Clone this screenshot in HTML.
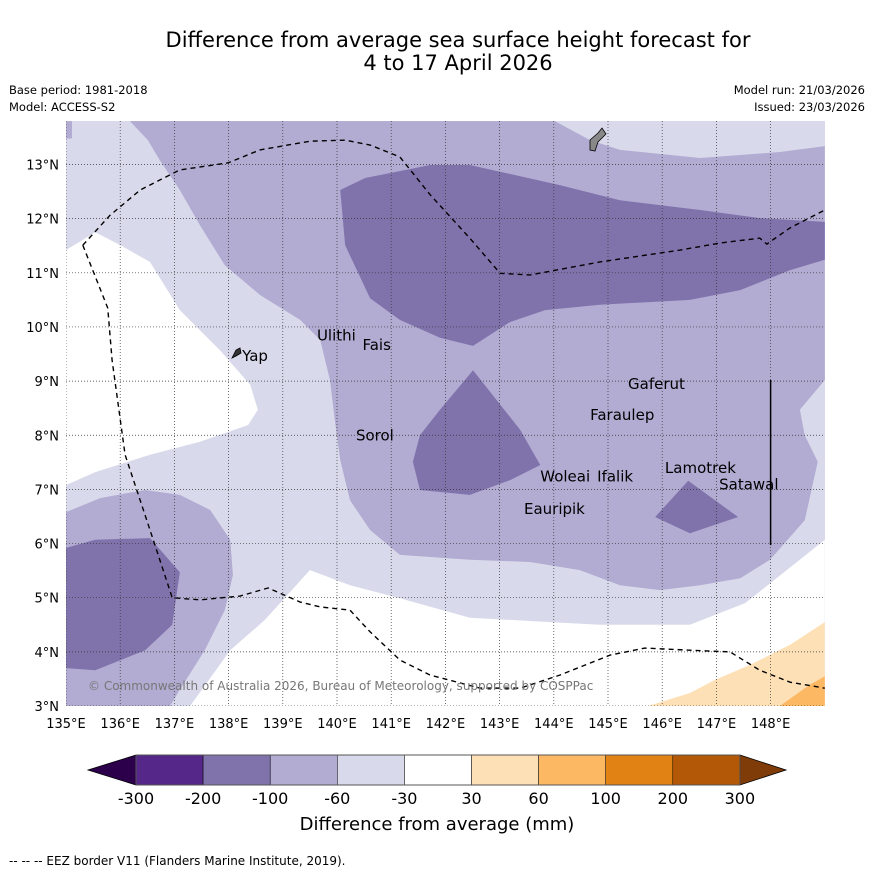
<!DOCTYPE html>
<html><head><meta charset="utf-8"><style>
body{margin:0;background:#fff;width:873px;height:873px;overflow:hidden;font-family:"Liberation Sans","DejaVu Sans",sans-serif}
</style></head><body>
<svg id="chart" width="873" height="873" xmlns="http://www.w3.org/2000/svg" font-family="DejaVu Sans, Liberation Sans, sans-serif">
<rect width="873" height="873" fill="#fff"/>
<text x="458" y="47" font-size="21" text-anchor="middle">Difference from average sea surface height forecast for</text>
<text x="458" y="70" font-size="21" text-anchor="middle">4 to 17 April 2026</text>
<text x="9" y="94" font-size="11.5">Base period: 1981-2018</text>
<text x="9" y="111" font-size="11.5">Model: ACCESS-S2</text>
<text x="865" y="94" font-size="11.5" text-anchor="end">Model run: 21/03/2026</text>
<text x="865" y="111" font-size="11.5" text-anchor="end">Issued: 23/03/2026</text>
<defs><clipPath id="mapclip"><rect x="66" y="121" width="759" height="585"/></clipPath></defs>
<g id="map" clip-path="url(#mapclip)"></g>
<g id="axes"></g>
<g id="cbar"></g>
<text x="437" y="830" font-size="18" text-anchor="middle">Difference from average (mm)</text>
<text x="9" y="865" font-size="12">--  --  -- EEZ border V11 (Flanders Marine Institute, 2019).</text>
</svg>
<script>
const NS="http://www.w3.org/2000/svg";
const lonTicks=[135,136,137,138,139,140,141,142,143,144,145,146,147,148];
const latTicks=[3,4,5,6,7,8,9,10,11,12,13];
const levels=["-300","-200","-100","-60","-30","30","60","100","200","300"];
const levelColors=["#542788","#8073ac","#b2abd2","#d8daeb","#ffffff","#fee0b6","#fdb863","#e08214","#b35806"];
const whiteLeft=[[135,11.42],[135.54,11.75],[136,11.51],[136.55,11.2],[137.1,10.31],[137.84,9.57],[138.4,8.93],[138.54,8.47],[138.36,8.19],[137.47,7.88],[136.55,7.64],[135.54,7.32],[135,7.08]];
const whiteBottom=[[137.29,3],[138.03,4.03],[138.67,4.59],[139.5,5.51],[140.24,5.23],[141.16,4.99],[142.45,4.63],[143.93,4.55],[144.85,4.5],[146.51,4.5],[147.53,4.9],[148.54,5.7],[149,6.07],[149,3]];
const m100Main=[[136.18,13.8],[144.02,13.8],[144.67,13.45],[145.22,13.27],[146.7,13.12],[148.17,13.23],[149,13.34],[149,9.02],[148.54,8.47],[148.63,8.0],[148.87,7.51],[148.63,6.43],[147.99,5.7],[147.44,5.36],[146.7,5.23],[145.96,5.14],[145.22,5.23],[144.48,5.51],[143.56,5.66],[142.45,5.7],[141.16,5.79],[140.61,6.25],[140.24,6.8],[140.06,7.54],[139.96,8.28],[139.87,9.02],[139.69,9.76],[139.32,10.13],[138.58,10.59],[137.93,11.14],[137.47,11.88],[137.1,12.53],[136.73,13.08],[136.51,13.45]];
const m100Corner=[[135,13.8],[135.11,13.8],[135.11,13.48],[135,13.48]];
const m100Left=[[135,6.58],[135.63,6.84],[136.46,6.99],[137.1,6.9],[137.66,6.62],[138.03,6.07],[138.08,5.42],[137.93,4.77],[137.56,4.03],[137.1,3.3],[136.92,3],[135,3]];
const m200Top=[[140.06,12.53],[140.52,12.75],[141.72,12.99],[142.45,12.99],[144.11,12.62],[145.22,12.34],[146.7,12.16],[147.8,12.01],[149,11.94],[149,11.24],[148.36,11.05],[147.44,10.68],[146.51,10.5],[144.85,10.41],[143.84,10.31],[143.19,10.09],[142.51,9.65],[141.9,9.8],[141.16,10.13],[140.61,10.53],[140.15,11.51]];
const m200Mid=[[142.51,9.2],[143.38,8.1],[143.75,7.45],[143.19,7.17],[142.45,6.9],[141.53,6.99],[141.4,7.51],[141.53,8.0],[141.9,8.47]];
const m200Small=[[146.48,7.16],[147.4,6.49],[146.51,6.19],[145.87,6.49]];
const m200Left=[[135,5.92],[135.54,6.07],[136.55,6.1],[137.1,5.47],[136.96,4.5],[136.46,4.03],[135.54,3.66],[135,3.7]];
const p30=[[145.74,3],[146.51,3.24],[146.97,3.48],[147.62,3.76],[148.36,4.13],[149,4.55],[149,3]];
const p60=[[148.17,3],[148.72,3.39],[149,3.55],[149,3]];
const eezNorth=[[135.31,11.51],[135.81,12.06],[136.37,12.53],[137.1,12.9],[137.99,13.03],[138.58,13.27],[139.5,13.43],[140.15,13.45],[140.61,13.36],[141.16,13.14],[141.72,12.44],[142.45,11.64],[143.01,10.99],[143.56,10.96],[144.85,11.2],[146.33,11.42],[147.07,11.55],[147.8,11.64],[147.93,11.53],[148.36,11.83],[149,12.16]];
const eezSouth=[[135.31,11.51],[135.77,10.35],[135.85,9.39],[136.09,7.64],[136.55,6.25],[136.96,5.0],[137.47,4.96],[138.21,5.03],[138.73,5.18],[139.32,4.92],[139.69,4.83],[140.24,4.77],[140.61,4.37],[141.16,3.85],[141.72,3.57],[142.64,3.33],[143.38,3.33],[144.11,3.57],[145.04,3.94],[145.68,4.07],[146.51,4.03],[147.25,4.0],[147.8,3.66],[148.36,3.44],[149,3.33]];
const islandNames=["Ulithi","Fais","Yap","Gaferut","Faraulep","Sorol","Woleai","Ifalik","Lamotrek","Satawal","Eauripik"];
const islandLon=[139.63,140.47,138.25,145.37,144.67,140.35,143.75,144.8,146.05,147.05,143.45];
const islandLat=[9.75,9.57,9.37,8.85,8.28,7.9,7.15,7.15,7.3,7.0,6.55];

const X=lon=>66+(lon-135)*54.2, Y=lat=>706-(lat-3)*54.15;
const map=document.getElementById('map'),axes=document.getElementById('axes'),cbar=document.getElementById('cbar');
function mk(tag,attrs,parent){const e=document.createElementNS(NS,tag);for(const k in attrs)e.setAttribute(k,attrs[k]);parent.appendChild(e);return e;}
function poly(pts,fill,name){const e=mk('polygon',{points:pts.map(p=>X(p[0])+','+Y(p[1])).join(' '),fill:fill},map);

}
const bg=mk('rect',{x:66,y:121,width:759,height:585,fill:levelColors[3]},map);


poly(whiteLeft,"#fff","contour-neutral-west");
poly(whiteBottom,"#fff","contour-neutral-south");
poly(m100Main,levelColors[2],"contour-minus100-main");
poly(m100Corner,levelColors[2],"contour-minus100-corner");
poly(m100Left,levelColors[2],"contour-minus100-southwest");
poly(m200Top,levelColors[1],"contour-minus200-north");
poly(m200Mid,levelColors[1],"contour-minus200-central");
poly(m200Small,levelColors[1],"contour-minus200-east");
poly(m200Left,levelColors[1],"contour-minus200-southwest");
poly(p30,levelColors[5],"contour-plus30-southeast");
poly(p60,levelColors[6],"contour-plus60-southeast");
lonTicks.forEach(l=>{const g=mk('line',{x1:X(l),x2:X(l),y1:121,y2:706,stroke:"#333","stroke-width":0.7,"stroke-dasharray":"1,2"},map);

});
latTicks.forEach(l=>{const g=mk('line',{x1:66,x2:825,y1:Y(l),y2:Y(l),stroke:"#333","stroke-width":0.7,"stroke-dasharray":"1,2"},map);

});
[eezNorth,eezSouth].forEach(s=>{const e=mk('polyline',{points:s.map(p=>X(p[0])+','+Y(p[1])).join(' '),fill:"none",stroke:"#000","stroke-width":1.4,"stroke-dasharray":"5,4"},map);

});
const vl=mk('line',{x1:X(148),x2:X(148),y1:Y(9.02),y2:Y(5.97),stroke:"#000","stroke-width":1.5},map);


const guam=mk('polygon',{points:"590,140 598,133 602,128 606,134 598,142 595,151 590,150",fill:"#888",stroke:"#000","stroke-width":0.8},map);


const yap=mk('polygon',{points:"232,358 236,350 240,348 241,353 236,356",fill:"#333",stroke:"#000","stroke-width":0.8},map);


islandNames.forEach((n,i)=>{const t=mk('text',{x:X(islandLon[i]),y:Y(islandLat[i]),"font-size":15},map);t.textContent=n;

});
const cp=mk('text',{x:88,y:690,"font-size":12,fill:"#777"},map);cp.textContent="© Commonwealth of Australia 2026, Bureau of Meteorology, supported by COSPPac";


lonTicks.forEach(l=>{const t=mk('text',{x:X(l),y:728,"font-size":13,"text-anchor":"middle"},axes);t.textContent=l+"°E";

});
latTicks.forEach(l=>{const t=mk('text',{x:59,y:Y(l)+5,"font-size":13,"text-anchor":"end"},axes);t.textContent=l+"°N";

});
const cx=i=>136+i*67.1, cy=755, ch=30;
const lo=mk('polygon',{points:`88,770 ${cx(0)},${cy} ${cx(0)},${cy+ch}`,fill:"#2d004b",stroke:"#000","stroke-width":0.8},cbar);


const hi=mk('polygon',{points:`${cx(9)},${cy} 786,770 ${cx(9)},${cy+ch}`,fill:"#7f3b08",stroke:"#000","stroke-width":0.8},cbar);


levelColors.forEach((c,i)=>{const r=mk('rect',{x:cx(i),y:cy,width:67.1,height:ch,fill:c,stroke:"#000","stroke-width":0.5},cbar);

});
const fr=mk('rect',{x:cx(0),y:cy,width:cx(9)-cx(0),height:ch,fill:"none",stroke:"#555","stroke-width":1},cbar);


levels.forEach((l,i)=>{const t=mk('text',{x:cx(i),y:804,"font-size":16,"text-anchor":"middle"},cbar);t.textContent=l;

});
</script>
</body></html>
